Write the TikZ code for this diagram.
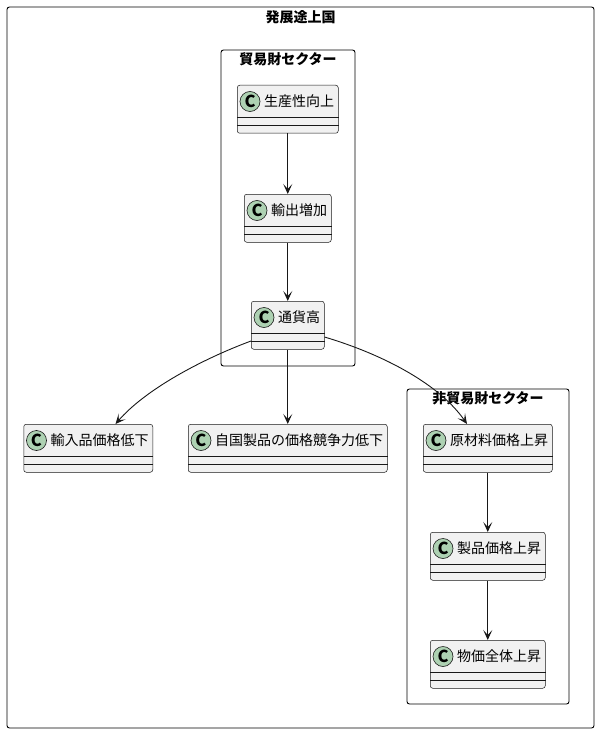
\documentclass[tikz,border=0pt]{standalone}
\usepackage{fontspec}
\setmainfont{Noto Sans CJK JP}
\usetikzlibrary{arrows.meta,calc}
\definecolor{clsfill}{HTML}{F1F1F1}
\definecolor{clsline}{HTML}{181818}
\definecolor{circfill}{HTML}{ADD1B2}
\tikzset{
  pkg/.style={draw=black,line width=0.9pt,rounded corners=2.5pt},
  pkgtitle/.style={font=\bfseries\fontsize{14}{16}\selectfont,inner sep=0pt},
  clsbox/.style={draw=clsline,fill=clsfill,line width=0.5pt,rounded corners=2.5pt,minimum height=48pt,anchor=north west,inner sep=0pt},
  clsrule/.style={draw=clsline,line width=0.5pt},
  circ/.style={circle,draw=clsline,fill=circfill,line width=0.6pt,minimum size=20pt,inner sep=0pt,font=\bfseries\fontsize{16.5}{18}\selectfont},
  lbl/.style={anchor=west,inner sep=0pt,font=\fontsize{14}{16}\selectfont},
  arr/.style={draw=clsline,line width=0.9pt,-{Stealth[length=10pt,width=9pt,inset=5pt]}}
}
\newcommand\classbox[5]{%
  \node[clsbox,minimum width=#4 pt] (#1) at (#2,#3) {};
  \draw[clsrule] ([yshift=-32pt]#1.north west) -- ([yshift=-32pt]#1.north east);
  \draw[clsrule] ([yshift=-40pt]#1.north west) -- ([yshift=-40pt]#1.north east);
  \node[circ] (#1c) at ([xshift=13pt,yshift=-16.5pt]#1.north west) {C};
  \node[lbl] (#1t) at ([xshift=27pt,yshift=-16pt]#1.north west) {#5};
}
\begin{document}
\begin{tikzpicture}[x=1pt,y=-1pt]
\useasboundingbox (0,0) rectangle (598,733);
% packages
\draw[pkg] (7,7) rectangle (594,728);
\node[pkgtitle] (t0) at (300.5,17) {発展途上国};
\draw[pkg] (221,50) rectangle (355,366);
\node[pkgtitle] (t1) at (288,59) {貿易財セクター};
\draw[pkg] (407,389) rectangle (569,704);
\node[pkgtitle] (t2) at (488,398) {非貿易財セクター};
% classes
\classbox{a}{237}{85}{101}{生産性向上}
\classbox{b}{244}{194}{87}{輸出増加}
\classbox{c}{251}{301}{73}{通貨高}
\classbox{d}{23.5}{424}{129}{輸入品価格低下}
\classbox{e}{188}{424}{199}{自国製品の価格競争力低下}
\classbox{f}{423}{424}{129}{原材料価格上昇}
\classbox{g}{430}{532}{115}{製品価格上昇}
\classbox{h}{430}{640}{115}{物価全体上昇}
% connectors
\draw[arr] (a.south) -- (b.north);
\draw[arr] (b.south) -- (c.north);
\draw[arr] (c.south) -- (e.north);
\draw[arr] ($(c.north west)+(0,40)$) .. controls (200,360) and (145,390) .. ($(d.north west)+(92,0)$);
\draw[arr] ($(c.north east)+(0,36)$) .. controls (385,355) and (440,385) .. ($(f.north west)+(44,0)$);
\draw[arr] (f.south) -- (g.north);
\draw[arr] (g.south) -- (h.north);
\end{tikzpicture}
\end{document}
